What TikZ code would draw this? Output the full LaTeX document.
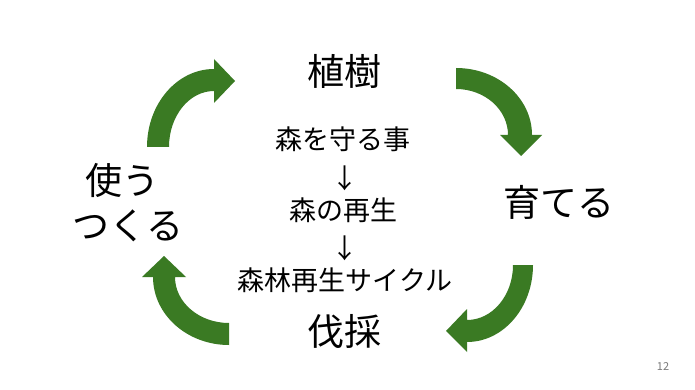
\documentclass[tikz,border=0pt]{standalone}
\usepackage{fontspec}
\newfontfamily\jp{Noto Sans CJK JP}
\definecolor{leaf}{HTML}{3A7A23}
\definecolor{pgnum}{HTML}{7A7A7A}
\begin{document}
\begin{tikzpicture}[x=1pt,y=-1pt,
  bigtxt/.style={font=\jp\fontsize{37}{40}\selectfont,inner sep=0pt},
  midtxt/.style={font=\jp\fontsize{27}{30}\selectfont,inner sep=0pt},
  cyclearrow/.style={fill=leaf,draw=none}]
\useasboundingbox[fill=white] (0,0) rectangle (695,390);
% labels
\node[bigtxt] (plant) at (344,71) {植樹};
\node[bigtxt] (grow) at (559,202) {育てる};
\node[bigtxt] (cut) at (344,331) {伐採};
\node[bigtxt] (use) at (122,180) {使う};
\node[bigtxt] (make) at (128,226) {つくる};
\node[midtxt] (protect) at (343,139) {森を守る事};
\node[midtxt] (d1) at (345,178) {↓};
\node[midtxt] (regen) at (343,210) {森の再生};
\node[midtxt] (d2) at (345,248) {↓};
\node[midtxt] (cycle) at (345,280) {森林再生サイクル};
\node[font=\jp\fontsize{11}{12}\selectfont,text=pgnum,inner sep=0pt] (page) at (663,367) {12};
% top-left arrow
\fill[cyclearrow] (147,147) arc[x radius=67,y radius=78,start angle=180,end angle=270]
  -- (214,59) -- (235,81) -- (214,103) -- (214,91)
  arc[x radius=45,y radius=56,start angle=270,end angle=180] -- cycle;
% top-right arrow
\fill[cyclearrow] (456,68) arc[x radius=76,y radius=67,start angle=270,end angle=360]
  -- (542,135) -- (521,156) -- (500,135) -- (508,135)
  arc[x radius=52,y radius=46,start angle=360,end angle=270] -- cycle;
% bottom-right arrow
\fill[cyclearrow] (533,265) arc[x radius=66,y radius=77,start angle=0,end angle=90]
  -- (467,352) -- (446,331) -- (467,309) -- (467,320)
  arc[x radius=46,y radius=55,start angle=90,end angle=0] -- cycle;
% bottom-left arrow
\fill[cyclearrow] (229,345) arc[x radius=76,y radius=68,start angle=90,end angle=180]
  -- (142,277) -- (164,256) -- (186,277) -- (175,277)
  arc[x radius=54,y radius=46,start angle=180,end angle=90] -- cycle;
\end{tikzpicture}
\end{document}
